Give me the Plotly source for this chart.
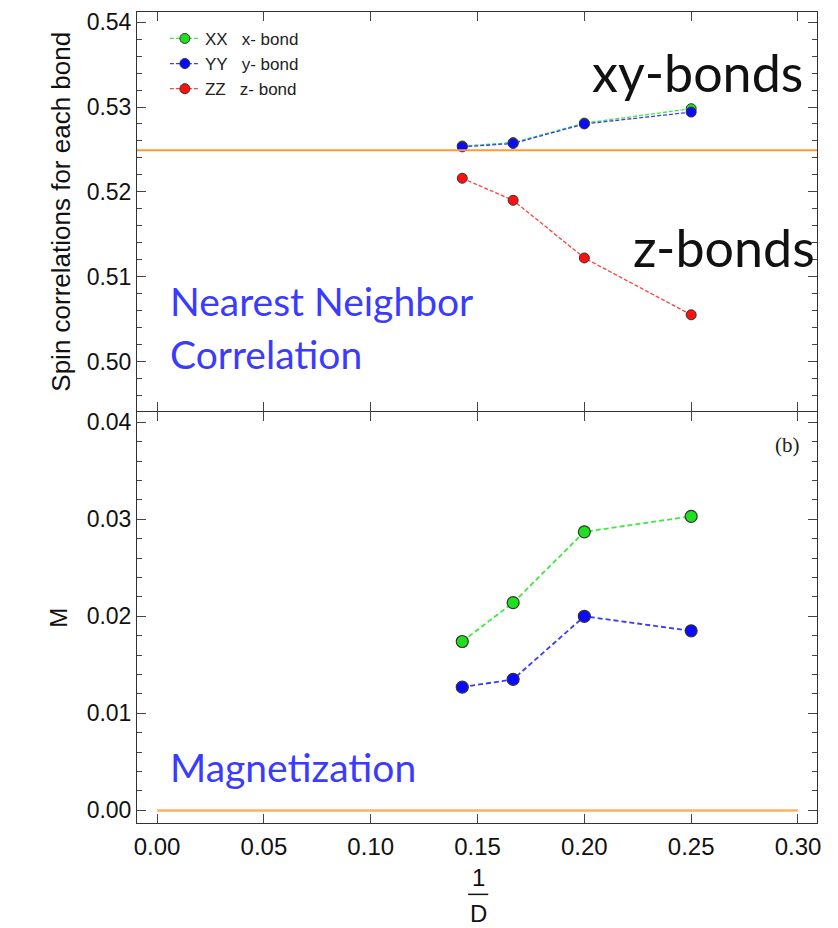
import plotly.graph_objects as go
from plotly.subplots import make_subplots

# ---- data ----
inv_D = [1/7, 1/6, 1/5, 1/4]
corr_xx = [0.5254, 0.5258, 0.5281, 0.5298]
corr_yy = [0.5253, 0.5257, 0.5280, 0.5294]
corr_zz = [0.5216, 0.5190, 0.5122, 0.5055]
corr_ref = 0.5249
mag_xx = [0.0174, 0.0214, 0.0287, 0.0303]
mag_yy = [0.0127, 0.0135, 0.0200, 0.0185]
mag_ref_x = [0.0, 0.30]
mag_ref_y = [0.0, 0.0]

names = ["XX\u00a0\u00a0\u00a0x- bond", "YY\u00a0\u00a0\u00a0y- bond", "ZZ\u00a0\u00a0\u00a0z- bond"]
mk_colors = ["#1fe01f", "#0a0aff", "#ff1010"]
ln_colors = ["#3ee83e", "#3a3aff", "#ff4040"]

fig = make_subplots(rows=2, cols=1, shared_xaxes=True, vertical_spacing=0)

for vals, nm, mc, lc in zip([corr_xx, corr_yy, corr_zz], names, mk_colors, ln_colors):
    fig.add_trace(go.Scatter(
        x=inv_D, y=vals, name=nm, mode="lines+markers",
        line=dict(color=lc, width=1.3, dash="4px,2px"),
        marker=dict(color=mc, size=10, line=dict(color="#333333", width=1)),
    ), row=1, col=1)

for vals, mc, lc in zip([mag_xx, mag_yy], mk_colors, ln_colors):
    fig.add_trace(go.Scatter(
        x=inv_D, y=vals, mode="lines+markers", showlegend=False,
        line=dict(color=lc, width=1.8, dash="5px,3px"),
        marker=dict(color=mc, size=12, line=dict(color="#333333", width=1.2)),
    ), row=2, col=1)

fig.add_trace(go.Scatter(x=mag_ref_x, y=mag_ref_y, mode="lines", showlegend=False,
                         line=dict(color="#ffb060", width=2.5)), row=2, col=1)

fig.add_shape(type="line", xref="x domain", yref="y", x0=0, x1=1, y0=corr_ref, y1=corr_ref,
              line=dict(color="#ff9a30", width=2))

axis_common = dict(showline=True, linecolor="#333333", linewidth=1, mirror="ticks",
                   ticks="inside", ticklen=9, tickcolor="#444444", tickwidth=1.2,
                   showgrid=False, zeroline=False)

xr = [-0.0094, 0.3089]
fig.update_xaxes(range=xr, dtick=0.05, tick0=0, tickformat=".2f", ticklabelstandoff=2,
                 tickfont=dict(family="Liberation Sans", size=24, color="#111111"), **axis_common)
fig.update_xaxes(showticklabels=False, row=1, col=1)

yfont = dict(family="Liberation Sans", size=23, color="#111111")
fig.update_yaxes(range=[0.4941, 0.5412], dtick=0.01, tick0=0.5, tickformat=".2f", tickfont=yfont,
                 minor=dict(dtick=0.002, ticks="inside", ticklen=5, tickcolor="#444444"),
                 domain=[0.5074, 1.0], **axis_common, row=1, col=1)
fig.update_yaxes(range=[-0.0013, 0.041], dtick=0.01, tick0=0, tickformat=".2f", tickfont=yfont,
                 minor=dict(dtick=0.002, ticks="inside", ticklen=5, tickcolor="#444444"),
                 domain=[0.0, 0.5062], **axis_common, row=2, col=1)

fig.update_yaxes(title=dict(text="Spin correlations for each bond",
                            font=dict(family="Liberation Sans", size=26, color="#111111"),
                            standoff=8), row=1, col=1)
fig.update_yaxes(title=dict(text="M", font=dict(family="Liberation Sans", size=24, color="#111111"),
                            standoff=12), row=2, col=1)

big = dict(family="Lato", size=52, color="#111111")
blue = dict(family="Lato", size=39, color="#3b3bff")
tfont = dict(family="Liberation Sans", size=24, color="#111111")
ann = [
    dict(x=0.2528, y=0.5341, xref="x", yref="y", text="xy-bonds", font=big, xanchor="center", yanchor="middle"),
    dict(x=0.2654, y=0.5135, xref="x", yref="y", text="z-bonds", font=big, xanchor="center", yanchor="middle"),
    dict(x=0.005, y=0.5071, xref="x", yref="y", text="Nearest Neighbor", font=blue, xanchor="left", yanchor="middle"),
    dict(x=0.005, y=0.5009, xref="x", yref="y", text="Correlation", font=blue, xanchor="left", yanchor="middle"),
    dict(x=0.005, y=0.0045, xref="x2", yref="y2", text="Magnetization", font=blue, xanchor="left", yanchor="middle"),
    dict(x=0.295, y=0.0377, xref="x2", yref="y2", text="(b)",
         font=dict(family="Liberation Serif", size=21, color="#222222"), xanchor="center", yanchor="middle"),
    dict(x=0.1503, y=-0.067, xref="x2", yref="paper", text="1", font=tfont, xanchor="center", yanchor="middle"),
    dict(x=0.1503, y=-0.111, xref="x2", yref="paper", text="D", font=tfont, xanchor="center", yanchor="middle"),
]
for a in ann:
    a["showarrow"] = False
    fig.add_annotation(**a)

fig.add_shape(type="line", xref="x2", yref="paper", x0=0.1456, x1=0.1550, y0=-0.088, y1=-0.088,
              line=dict(color="#111111", width=1.5))

fig.update_layout(
    width=830, height=920,
    margin=dict(l=129, r=21, t=1, b=105),
    paper_bgcolor="white", plot_bgcolor="white",
    legend=dict(x=0.041, y=0.989, xanchor="left", yanchor="top", bgcolor="rgba(0,0,0,0)",
                font=dict(family="Liberation Sans", size=17, color="#222222"),
                tracegroupgap=0, itemwidth=30),
)

fig.write_html("out.html")
